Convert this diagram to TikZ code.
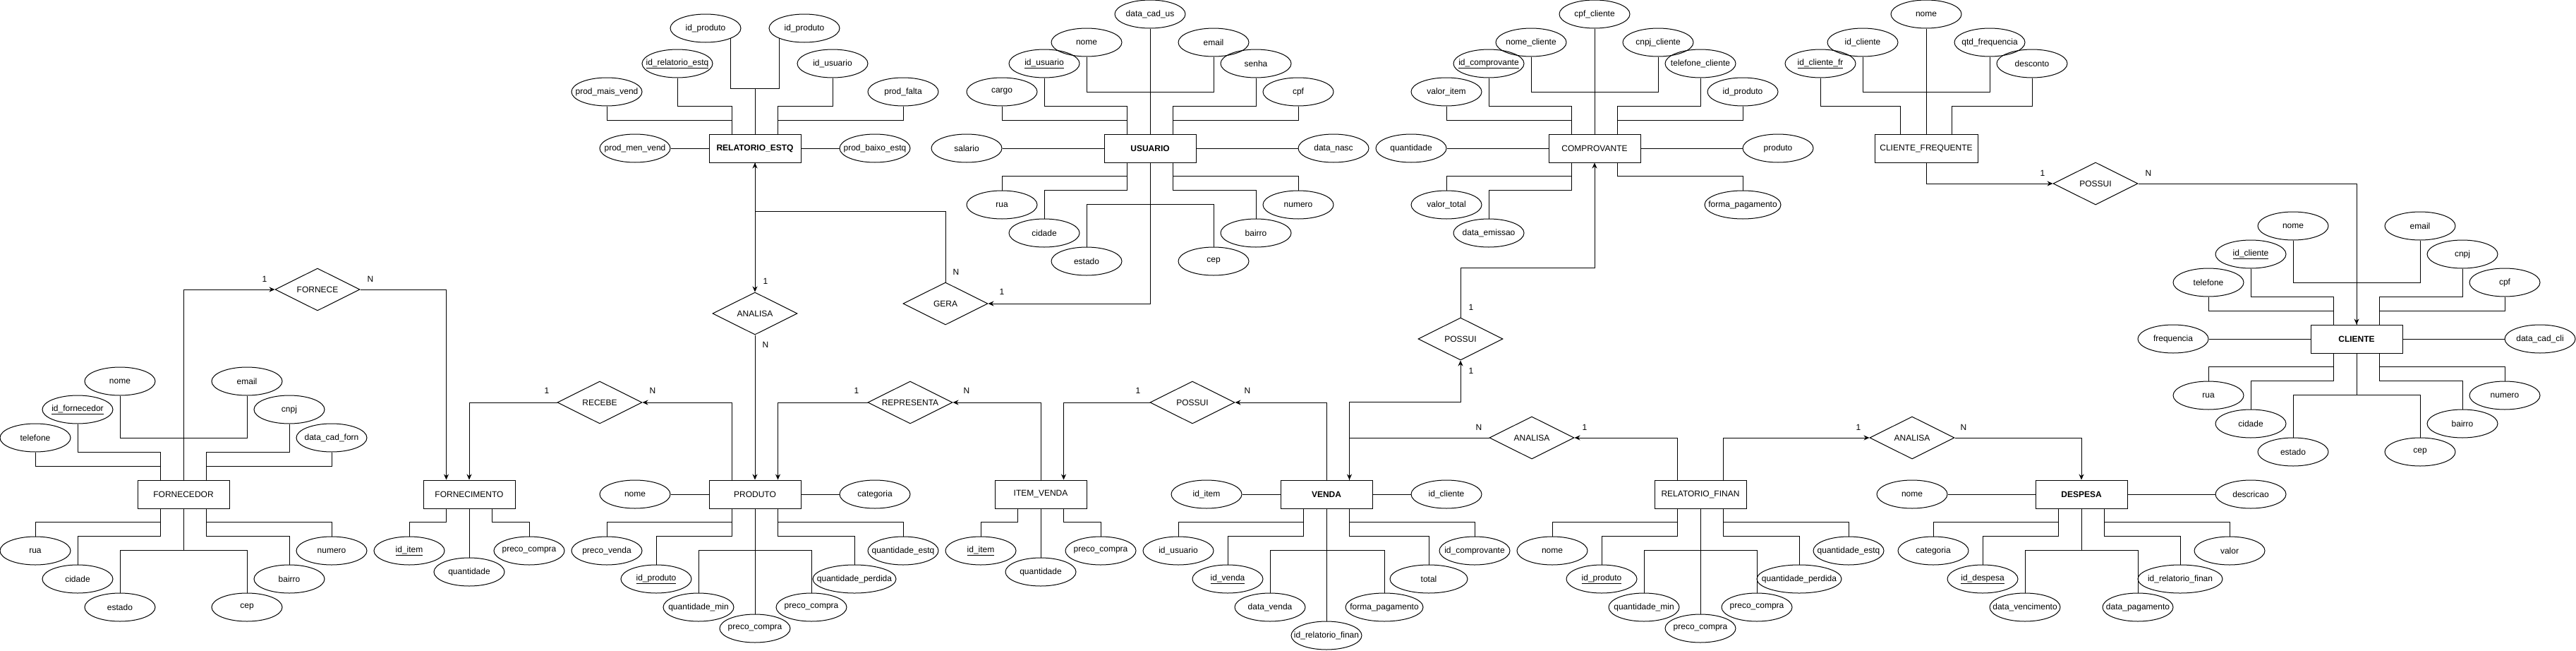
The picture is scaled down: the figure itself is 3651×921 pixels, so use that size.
\documentclass[tikz,border=0pt]{standalone}
\usepackage{fontspec}
\setmainfont{Liberation Sans}
\usepackage{tikz}
\usetikzlibrary{positioning, arrows.meta, shapes.geometric}

% side ports of an entity box
\newcommand{\ports}[2]{%
  \coordinate (#1-nl) at ([xshift=-#2]#1.north);
  \coordinate (#1-nr) at ([xshift=#2]#1.north);
  \coordinate (#1-sl) at ([xshift=-#2]#1.south);
  \coordinate (#1-sr) at ([xshift=#2]#1.south);}

\begin{document}
\begin{tikzpicture}[x=1pt, y=-1pt, line width=1pt,
  every node/.style={font=\fontsize{12}{14}\selectfont},
  ent/.style={draw, rectangle, minimum width=130pt, minimum height=40pt, inner sep=0pt},
  attr/.style={draw, ellipse, minimum width=100pt, minimum height=40pt, inner ysep=0pt, inner xsep=-20pt},
  rel/.style={draw, diamond, aspect=2, minimum width=120pt, minimum height=60pt, inner sep=0pt},
  arr/.style={-{Stealth[length=8pt, width=7pt]}}]
\useasboundingbox (0,0) rectangle (3651,921);

% FORNECEDOR
\node[ent] (forn) at (260,700) {FORNECEDOR};
\ports{forn}{32.5pt}
\node[attr] (fnome) at (170,540) {nome};
\node[attr] (femail) at (350,540) {email};
\node[attr] (fid) at (110,580) {\underline{id\_fornecedor}};
\node[attr] (fcnpj) at (410,580) {cnpj};
\node[attr] (ftel) at (50,620) {telefone};
\node[attr] (fdata) at (470,620) {data\_cad\_forn};
\node[attr] (frua) at (50,780) {rua};
\node[attr] (fcid) at (110,820) {cidade};
\node[attr] (fest) at (170,860) {estado};
\node[attr] (fcep) at (350,860) {cep};
\node[attr] (fbai) at (410,820) {bairro};
\node[attr] (fnum) at (470,780) {numero};
\draw (fnome.south) -- ++(0,60) -| (forn.north);
\draw (femail.south) -- ++(0,60) -| (forn.north);
\draw (fid.south) -- ++(0,40) -| (forn-nl);
\draw (ftel.south) -- ++(0,20) -| (forn-nl);
\draw (fcnpj.south) -- ++(0,40) -| (forn-nr);
\draw (fdata.south) -- ++(0,20) -| (forn-nr);
\draw (frua.north) -- ++(0,-20) -| (forn-sl);
\draw (fcid.north) -- ++(0,-40) -| (forn-sl);
\draw (fest.north) -- ++(0,-60) -| (forn.south);
\draw (fcep.north) -- ++(0,-60) -| (forn.south);
\draw (fbai.north) -- ++(0,-40) -| (forn-sr);
\draw (fnum.north) -- ++(0,-20) -| (forn-sr);

% FORNECE
\node[rel] (fornece) at (450,410) {FORNECE};
\node (fornece-1) at (375,395) {1};
\node (fornece-n) at (525,395) {N};

% FORNECIMENTO
\node[ent] (fmto) at (665,700) {FORNECIMENTO};
\ports{fmto}{32.5pt}
\node[attr] (fitem) at (580,780) {\underline{id\_item}};
\node[attr] (fqtd) at (665,810) {quantidade};
\node[attr] (fpc) at (750,780) {preco\_compra};
\draw (fitem.north) -- ++(0,-20) -| (fmto-sl);
\draw (fqtd) -- (fmto);
\draw (fpc.north) -- ++(0,-20) -| (fmto-sr);
\draw[arr] (forn.north) |- (fornece.west);
\draw[arr] (fornece.east) -| (fmto-nl);

% RECEBE
\node[rel] (recebe) at (850,570) {RECEBE};
\node (recebe-1) at (775,553) {1};
\node (recebe-n) at (925,553) {N};

% PRODUTO
\node[ent] (prod) at (1070,700) {PRODUTO};
\ports{prod}{32.5pt}
\node[attr] (pnome) at (900,700) {nome};
\node[attr] (pcat) at (1240,700) {categoria};
\node[attr] (ppv) at (860,780) {preco\_venda};
\node[attr] (pid) at (930,820) {\underline{id\_produto}};
\node[attr] (pqmin) at (990,860) {quantidade\_min};
\node[attr] (ppc1) at (1070,890) {preco\_compra};
\node[attr] (ppc2) at (1150,860) {preco\_compra};
\node[attr, minimum width=118pt] (pqp) at (1211,820) {quantidade\_perdida};
\node[attr] (pqe) at (1280,780) {quantidade\_estq};
\draw (pnome) -- (prod);
\draw (prod) -- (pcat);
\draw (ppv.north) -- ++(0,-20) -| (prod-sl);
\draw (pid.north) -- ++(0,-40) -| (prod-sl);
\draw (pqmin.north) -- ++(0,-60) -| (prod.south);
\draw (ppc1) -- (prod);
\draw (ppc2.north) -- ++(0,-60) -| (prod.south);
\draw (pqp.north) -- ++(0,-40) -| (prod-sr);
\draw (pqe.north) -- ++(0,-20) -| (prod-sr);
\draw[arr] (recebe.west) -| (fmto.north);
\draw[arr] (prod-nl) |- (recebe.east);

% RELATORIO_ESTQ
\node[ent, font=\fontsize{12}{14}\selectfont\bfseries] (restq) at (1070,210) {RELATORIO\_ESTQ};
\ports{restq}{32.5pt}
\node[attr] (reidp1) at (1000,40) {id\_produto};
\node[attr] (reidp2) at (1140,40) {id\_produto};
\node[attr] (reid) at (960,90) {\underline{id\_relatorio\_estq}};
\node[attr] (reusu) at (1180,90) {id\_usuario};
\node[attr] (remais) at (860,130) {prod\_mais\_vend};
\node[attr] (refalta) at (1280,130) {prod\_falta};
\node[attr] (remen) at (900,210) {prod\_men\_vend};
\node[attr] (rebaixo) at (1240,210) {prod\_baixo\_estq};
\draw (reidp1.338) -- ++(0,71) -| (restq.north);
\draw (reidp2.202) -- ++(0,71) -| (restq.north);
\draw (reid.south) -- ++(0,40) -| (restq-nl);
\draw (remais.south) -- ++(0,20) -| (restq-nl);
\draw (reusu.south) -- ++(0,40) -| (restq-nr);
\draw (refalta.south) -- ++(0,20) -| (restq-nr);
\draw (remen) -- (restq);
\draw (restq) -- (rebaixo);

% ANALISA (estoque)
\node[rel] (anl1) at (1070,444) {ANALISA};
\node (anl1-1) at (1085,398) {1};
\node (anl1-n) at (1085,488) {N};
\draw[arr] (restq) -- (anl1);
\draw[arr] (anl1) -- (prod);

% GERA
\node[rel] (gera) at (1340,430) {GERA};
\node (gera-n) at (1355,385) {N};
\node (gera-1) at (1420,413) {1};
\draw[arr] (gera.north) -- ++(0,-100) -| (restq.south);

% USUARIO
\node[ent, font=\fontsize{12}{14}\selectfont\bfseries] (usu) at (1630,210) {USUARIO};
\ports{usu}{32.5pt}
\node[attr] (udata) at (1630,20) {data\_cad\_us};
\node[attr] (unome) at (1540,60) {nome};
\node[attr] (uemail) at (1720,60) {email};
\node[attr] (uid) at (1480,90) {\underline{id\_usuario}};
\node[attr] (usenha) at (1780,90) {senha};
\node[attr] (ucargo) at (1420,130) {cargo};
\node[attr] (ucpf) at (1840,130) {cpf};
\node[attr] (usal) at (1370,210) {salario};
\node[attr] (unasc) at (1890,210) {data\_nasc};
\node[attr] (urua) at (1420,290) {rua};
\node[attr] (ucid) at (1480,330) {cidade};
\node[attr] (uest) at (1540,370) {estado};
\node[attr] (ucep) at (1720,370) {cep};
\node[attr] (ubai) at (1780,330) {bairro};
\node[attr] (unum) at (1840,290) {numero};
\draw (udata) -- (usu);
\draw (unome.south) -- ++(0,50) -| (usu.north);
\draw (uemail.south) -- ++(0,50) -| (usu.north);
\draw (uid.south) -- ++(0,40) -| (usu-nl);
\draw (ucargo.south) -- ++(0,20) -| (usu-nl);
\draw (usenha.south) -- ++(0,40) -| (usu-nr);
\draw (ucpf.south) -- ++(0,20) -| (usu-nr);
\draw (usal) -- (usu);
\draw (usu) -- (unasc);
\draw (urua.north) -- ++(0,-20) -| (usu-sl);
\draw (ucid.north) -- ++(0,-40) -| (usu-sl);
\draw (uest.north) -- ++(0,-60) -| (usu.south);
\draw (ucep.north) -- ++(0,-60) -| (usu.south);
\draw (ubai.north) -- ++(0,-40) -| (usu-sr);
\draw (unum.north) -- ++(0,-20) -| (usu-sr);
\draw[arr] (usu.south) |- (gera.east);

% REPRESENTA
\node[rel] (repr) at (1290,570) {REPRESENTA};
\node (repr-1) at (1214,553) {1};
\node (repr-n) at (1370,553) {N};

% ITEM_VENDA
\node[ent] (iv) at (1475,700) {ITEM\_VENDA};
\ports{iv}{32.5pt}
\node[attr] (ivitem) at (1390,780) {\underline{id\_item}};
\node[attr] (ivqtd) at (1475,810) {quantidade};
\node[attr] (ivpc) at (1560,780) {preco\_compra};
\draw (ivitem.north) -- ++(0,-20) -| (iv-sl);
\draw (ivqtd) -- (iv);
\draw (ivpc.north) -- ++(0,-20) -| (iv-sr);
\draw[arr] (repr.west) -| (prod-nr);
\draw[arr] (iv.north) |- (repr.east);

% POSSUI (item)
\node[rel] (pos1) at (1690,570) {POSSUI};
\node (pos1-1) at (1613,553) {1};
\node (pos1-n) at (1768,553) {N};

% VENDA
\node[ent, font=\fontsize{12}{14}\selectfont\bfseries] (venda) at (1880,700) {VENDA};
\ports{venda}{32.5pt}
\node[attr] (vitem) at (1710,700) {id\_item};
\node[attr] (vcli) at (2050,700) {id\_cliente};
\node[attr] (vusu) at (1670,780) {id\_usuario};
\node[attr] (vid) at (1740,820) {\underline{id\_venda}};
\node[attr] (vdata) at (1800,860) {data\_venda};
\node[attr] (vrel) at (1880,900) {id\_relatorio\_finan};
\node[attr, minimum width=110pt] (vforma) at (1962,860) {forma\_pagamento};
\node[attr, minimum width=110pt] (vtotal) at (2025,820) {total};
\node[attr] (vcomp) at (2090,780) {id\_comprovante};
\draw (vitem) -- (venda);
\draw (venda) -- (vcli);
\draw (vusu.north) -- ++(0,-20) -| (venda-sl);
\draw (vid.north) -- ++(0,-40) -| (venda-sl);
\draw (vdata.north) -- ++(0,-60) -| (venda.south);
\draw (vrel) -- (venda);
\draw (vforma.north) -- ++(0,-60) -| (venda.south);
\draw (vtotal.north) -- ++(0,-40) -| (venda-sr);
\draw (vcomp.north) -- ++(0,-20) -| (venda-sr);
\draw[arr] (pos1.west) -| (iv-nr);
\draw[arr] (venda.north) |- (pos1.east);

% COMPROVANTE
\node[ent] (comp) at (2260,210) {COMPROVANTE};
\ports{comp}{32.5pt}
\node[attr] (ccpf) at (2260,20) {cpf\_cliente};
\node[attr] (cnome) at (2170,60) {nome\_cliente};
\node[attr] (ccnpj) at (2350,60) {cnpj\_cliente};
\node[attr] (cid) at (2110,90) {\underline{id\_comprovante}};
\node[attr] (ctel) at (2410,90) {telefone\_cliente};
\node[attr] (cvi) at (2050,130) {valor\_item};
\node[attr] (cidp) at (2470,130) {id\_produto};
\node[attr] (cqtd) at (2000,210) {quantidade};
\node[attr] (cprod) at (2520,210) {produto};
\node[attr] (cvt) at (2050,290) {valor\_total};
\node[attr] (cem) at (2110,330) {data\_emissao};
\node[attr, minimum width=108pt] (cfp) at (2470,290) {forma\_pagamento};
\draw (ccpf) -- (comp);
\draw (cnome.south) -- ++(0,50) -| (comp.north);
\draw (ccnpj.south) -- ++(0,50) -| (comp.north);
\draw (cid.south) -- ++(0,40) -| (comp-nl);
\draw (cvi.south) -- ++(0,20) -| (comp-nl);
\draw (ctel.south) -- ++(0,40) -| (comp-nr);
\draw (cidp.south) -- ++(0,20) -| (comp-nr);
\draw (cqtd) -- (comp);
\draw (comp) -- (cprod);
\draw (cvt.north) -- ++(0,-20) -| (comp-sl);
\draw (cem.north) -- ++(0,-40) -| (comp-sl);
\draw (cfp.north) -- ++(0,-20) -| (comp-sr);

% POSSUI (comprovante)
\node[rel] (pos2) at (2070,480) {POSSUI};
\node (pos2-1a) at (2085,435) {1};
\node (pos2-1b) at (2085,525) {1};
\draw[arr] (venda-nr) -- ++(0,-110) -| (pos2.south);
\draw[arr] (pos2.north) -- ++(0,-70) -| (comp.south);

% ANALISA (venda)
\node[rel] (anl2) at (2171,620) {ANALISA};
\node (anl2-n) at (2096,605) {N};
\node (anl2-1) at (2246,605) {1};

% RELATORIO_FINAN
\node[ent] (rfin) at (2410,700) {RELATORIO\_FINAN};
\ports{rfin}{32.5pt}
\node[attr] (rnome) at (2200,780) {nome};
\node[attr] (rid) at (2270,820) {\underline{id\_produto}};
\node[attr] (rqmin) at (2330,860) {quantidade\_min};
\node[attr] (rpc1) at (2410,890) {preco\_compra};
\node[attr] (rpc2) at (2490,860) {preco\_compra};
\node[attr, minimum width=120pt] (rqp) at (2550,820) {quantidade\_perdida};
\node[attr] (rqe) at (2620,780) {quantidade\_estq};
\draw (rnome.north) -- ++(0,-20) -| (rfin-sl);
\draw (rid.north) -- ++(0,-40) -| (rfin-sl);
\draw (rqmin.north) -- ++(0,-60) -| (rfin.south);
\draw (rpc1) -- (rfin);
\draw (rpc2.north) -- ++(0,-60) -| (rfin.south);
\draw (rqp.north) -- ++(0,-40) -| (rfin-sr);
\draw (rqe.north) -- ++(0,-20) -| (rfin-sr);
\draw[arr] (anl2.west) -| (venda-nr);
\draw[arr] (rfin-nl) |- (anl2.east);

% ANALISA (despesa)
\node[rel] (anl3) at (2710,620) {ANALISA};
\node (anl3-1) at (2634,605) {1};
\node (anl3-n) at (2783,605) {N};

% DESPESA
\node[ent, font=\fontsize{12}{14}\selectfont\bfseries] (desp) at (2950,700) {DESPESA};
\ports{desp}{32.5pt}
\node[attr] (dnome) at (2710,700) {nome};
\node[attr] (ddesc) at (3190,700) {descricao};
\node[attr] (dcat) at (2740,780) {categoria};
\node[attr] (did) at (2810,820) {\underline{id\_despesa}};
\node[attr] (dvenc) at (2870,860) {data\_vencimento};
\node[attr] (dpag) at (3030,860) {data\_pagamento};
\node[attr, minimum width=120pt] (drel) at (3090,820) {id\_relatorio\_finan};
\node[attr] (dval) at (3160,780) {valor};
\draw (dnome) -- (desp);
\draw (desp) -- (ddesc);
\draw (dcat.north) -- ++(0,-20) -| (desp-sl);
\draw (did.north) -- ++(0,-40) -| (desp-sl);
\draw (dvenc.north) -- ++(0,-60) -| (desp.south);
\draw (dpag.north) -- ++(0,-60) -| (desp.south);
\draw (drel.north) -- ++(0,-40) -| (desp-sr);
\draw (dval.north) -- ++(0,-20) -| (desp-sr);
\draw[arr] (rfin-nr) |- (anl3.west);
\draw[arr] (anl3.east) -| (desp.north);

% CLIENTE_FREQUENTE
\node[ent, minimum width=146pt] (cfreq) at (2730,210) {CLIENTE\_FREQUENTE};
\ports{cfreq}{36.5pt}
\node[attr] (cfnome) at (2730,20) {nome};
\node[attr] (cfid) at (2640,60) {id\_cliente};
\node[attr] (cfqtd) at (2820,60) {qtd\_frequencia};
\node[attr] (cfidfr) at (2580,90) {\underline{id\_cliente\_fr}};
\node[attr] (cfdesc) at (2880,90) {desconto};
\draw (cfnome) -- (cfreq);
\draw (cfid.south) -- ++(0,50) -| (cfreq.north);
\draw (cfqtd.south) -- ++(0,50) -| (cfreq.north);
\draw (cfidfr.south) -- ++(0,40) -| (cfreq-nl);
\draw (cfdesc.south) -- ++(0,40) -| (cfreq-nr);

% POSSUI (cliente)
\node[rel] (pos3) at (2970,260) {POSSUI};
\node (pos3-1) at (2895,245) {1};
\node (pos3-n) at (3045,245) {N};

% CLIENTE
\node[ent, font=\fontsize{12}{14}\selectfont\bfseries] (cli) at (3340,480) {CLIENTE};
\ports{cli}{32.5pt}
\node[attr] (clnome) at (3250,320) {nome};
\node[attr] (clemail) at (3430,320) {email};
\node[attr] (clid) at (3190,360) {\underline{id\_cliente}};
\node[attr] (clcnpj) at (3490,360) {cnpj};
\node[attr] (cltel) at (3130,400) {telefone};
\node[attr] (clcpf) at (3550,400) {cpf};
\node[attr] (clfreq) at (3080,480) {frequencia};
\node[attr] (cldata) at (3600,480) {data\_cad\_cli};
\node[attr] (clrua) at (3130,560) {rua};
\node[attr] (clcid) at (3190,600) {cidade};
\node[attr] (clest) at (3250,640) {estado};
\node[attr] (clcep) at (3430,640) {cep};
\node[attr] (clbai) at (3490,600) {bairro};
\node[attr] (clnum) at (3550,560) {numero};
\draw (clnome.south) -- ++(0,60) -| (cli.north);
\draw (clemail.south) -- ++(0,60) -| (cli.north);
\draw (clid.south) -- ++(0,40) -| (cli-nl);
\draw (cltel.south) -- ++(0,20) -| (cli-nl);
\draw (clcnpj.south) -- ++(0,40) -| (cli-nr);
\draw (clcpf.south) -- ++(0,20) -| (cli-nr);
\draw (clfreq) -- (cli);
\draw (cli) -- (cldata);
\draw (clrua.north) -- ++(0,-20) -| (cli-sl);
\draw (clcid.north) -- ++(0,-40) -| (cli-sl);
\draw (clest.north) -- ++(0,-60) -| (cli.south);
\draw (clcep.north) -- ++(0,-60) -| (cli.south);
\draw (clbai.north) -- ++(0,-40) -| (cli-sr);
\draw (clnum.north) -- ++(0,-20) -| (cli-sr);
\draw[arr] (cfreq.south) |- (pos3.west);
\draw[arr] (pos3.east) -| (cli.north);
\end{tikzpicture}
\end{document}
